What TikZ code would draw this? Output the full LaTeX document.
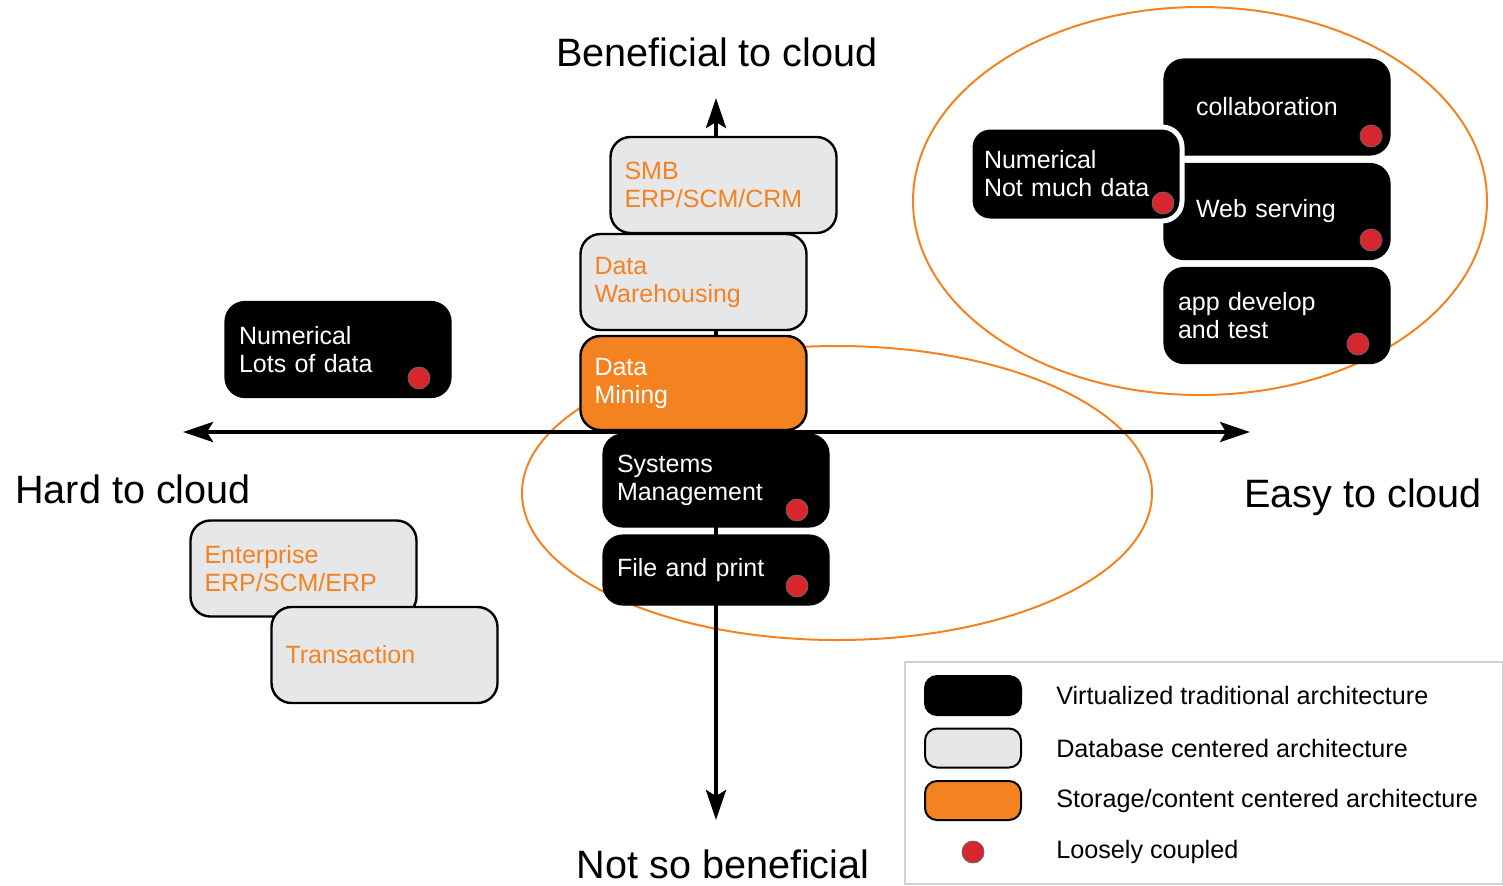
\documentclass[tikz,border=0pt]{standalone}
\usepackage{fontspec}
\setmainfont{Liberation Sans}
\usetikzlibrary{positioning,arrows.meta}
\definecolor{cloudorange}{HTML}{F58220}
\definecolor{dbgray}{HTML}{E6E7E8}
\definecolor{dotred}{HTML}{D7262E}
\definecolor{framegray}{HTML}{D0D0D0}

\begin{document}
\begin{tikzpicture}[x=0.5pt, y=-0.5pt, semithick,
boxtext/.style={font=\fontsize{12.5}{14}\selectfont, align=left, text width=99pt,
  inner xsep=7pt, minimum height=48pt, rounded corners=10pt},
virt/.style={boxtext, fill=black, draw=black, text=white},
dbase/.style={boxtext, fill=dbgray, draw=black, line width=1.2pt, text=cloudorange},
storage/.style={boxtext, fill=cloudorange, draw=black, line width=1.2pt, text=white},
coupled/.style={circle, fill=dotred, draw=black!60, line width=0.4pt, minimum size=11pt, inner sep=0pt},
swatch/.style={rounded corners=6pt, minimum width=48pt, minimum height=19.5pt, line width=1pt, draw=black},
axislabel/.style={font=\fontsize{19.8}{23}\selectfont},
legendtext/.style={font=\fontsize{12.6}{14}\selectfont, anchor=west},
axis/.style={line width=2pt, {Stealth[length=15pt,width=10pt,inset=3pt]}-{Stealth[length=15pt,width=10pt,inset=3pt]}}
]
\useasboundingbox (0,0) rectangle (1503,885);

% groups
\draw[cloudorange, line width=1pt] (1200,201) ellipse [x radius=287, y radius=194];
\draw[cloudorange, line width=1pt] (837,493) ellipse [x radius=315, y radius=147];

% axes
\coordinate (west) at (183,432);
\coordinate (east) at (1250,432);
\coordinate (north) at (716,98);
\coordinate (south) at (716,820);
\draw[axis] (west) -- (east);
\draw[axis] (south) -- (north);

% axis labels
\node[axislabel] (top) at (717,52) {Beneficial to cloud};
\node[axislabel] (bottom) at (723,864) {Not so beneficial};
\node[axislabel, anchor=west] (hard) at (8,489) {Hard to cloud};
\node[axislabel, anchor=west] (easy) at (1237,497) {Easy to cloud};

% central stack
\node[dbase] (dw) at (693.5,282) {Data\\Warehousing};
\node[dbase] (smb) at (723.5,185) {SMB\\ERP/SCM/CRM};
\node[storage, minimum height=47pt] (mining) at (693.5,383) {Data\\Mining};
\node[virt, minimum height=46.5pt] (sysmgmt) at (716,480.5) {Systems\\Management};
\node[virt, minimum height=35pt] (fileprint) at (716,570) {File and print};
\node[coupled] (d1) at (797,510) {};
\node[coupled] (d2) at (797,586) {};

% left side
\node[virt] (numlots) at (338,349.5) {Numerical\\Lots of data};
\node[coupled] (d3) at (419,378) {};
\node[dbase] (enterprise) at (303.5,568.5) {Enterprise\\ERP/SCM/ERP};
\node[dbase] (transaction) at (384.5,655) {Transaction};

% upper right
\node[virt, inner xsep=16pt, text width=81pt] (collab) at (1277,107) {collaboration};
\node[virt, inner xsep=16pt, text width=81pt] (webserv) at (1277,211.5) {Web serving};
\node[virt] (appdev) at (1277,315.5) {app develop\\and test};
\node[virt, draw=white, line width=2.5pt, text width=92pt, minimum height=47pt] (numfew) at (1076,174) {Numerical\\Not much data};
\node[coupled] (d4) at (1371,136) {};
\node[coupled] (d5) at (1371,240) {};
\node[coupled] (d6) at (1358,344) {};
\node[coupled] (d7) at (1163,203) {};

% legend
\node[draw=framegray, line width=1pt, minimum width=299pt, minimum height=111pt, inner sep=0pt] (legend) at (1204,773) {};
\node[swatch, fill=black] (lvirt) at (973,695.5) {};
\node[swatch, fill=dbgray] (ldb) at (973,748) {};
\node[swatch, fill=cloudorange] (lstore) at (973,800.5) {};
\node[coupled] (ldot) at (973,852) {};
\node[legendtext] (tvirt) at (1049,695.5) {Virtualized traditional architecture};
\node[legendtext] (tdb) at (1049,748) {Database centered architecture};
\node[legendtext] (tstore) at (1049,800.5) {Storage/content centered architecture};
\node[legendtext] (tdot) at (1049,852) {Loosely coupled};
\end{tikzpicture}
\end{document}
